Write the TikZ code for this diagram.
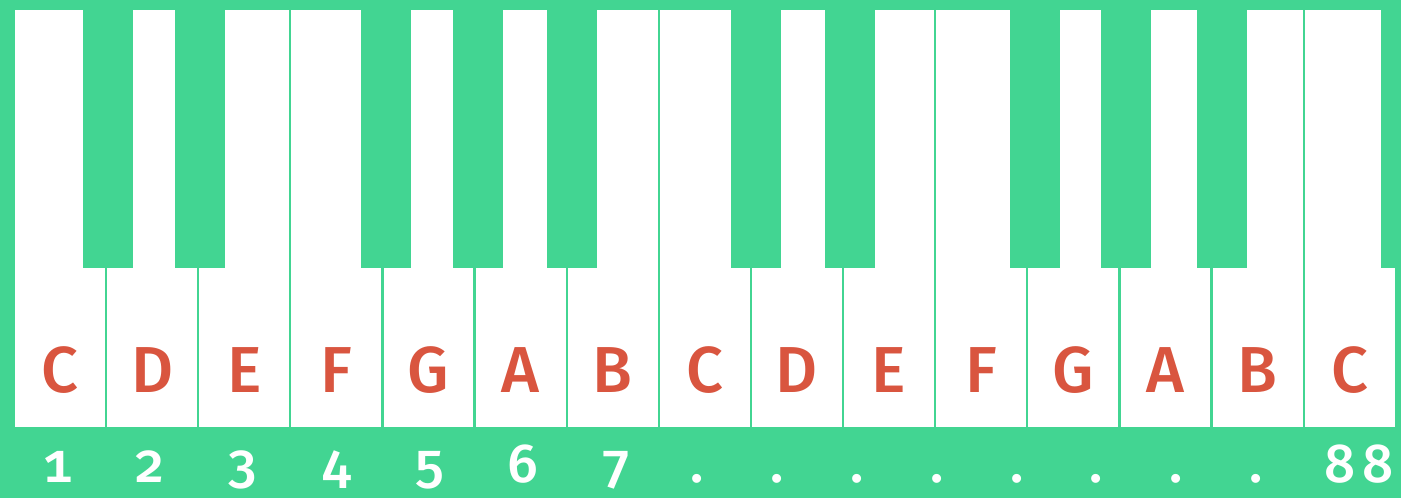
\documentclass[tikz,border=0pt]{standalone}
\usepackage{fontspec}
\setmainfont{Fira Sans}[UprightFont=* Medium, Numbers={OldStyle,Monospaced}]
\definecolor{keygreen}{HTML}{42D592}
\definecolor{notered}{HTML}{D9553F}
\tikzset{
  notelabel/.style={text=notered, font=\fontsize{65}{65}\selectfont, anchor=base, inner sep=0pt},
  keynum/.style={text=white, font=\fontsize{55}{55}\selectfont, anchor=base, inner sep=0pt}
}
\begin{document}
\begin{tikzpicture}[x=1pt, y=-1pt]
    \fill[keygreen] (0,0) rectangle (1401,498);
    \useasboundingbox (0,0) rectangle (1401,498);
    % white keys with their note names
    \foreach \i/\n in {0/C,1/D,2/E,3/F,4/G,5/A,6/B,7/C,8/D,9/E,10/F,11/G,12/A,13/B,14/C} {
      \fill[white] ({15+92.13*\i},10) rectangle ({104.9+92.13*\i},427);
      \node (note\i) [notelabel] at ({60+92.13*\i},392) {\n};
    }
    % black keys
    \foreach \x in {83,175,361,453,547,731,825,1010,1101,1197} {
      \fill[keygreen] (\x,0) rectangle (\x+50,268);
    }
    \fill[keygreen] (1381,0) rectangle (1401,268);
    % key numbers
    \foreach \k/\x in {1/58,2/150,3/243,4/337,5/430,6/523,7/617} {
      \node (num\k) [keynum] at (\x,482) {\k};
    }
    \foreach \d in {0,...,7} {
      \node (dot\d) [keynum] at ({697+79.9*\d},482) {.};
    }
    \node (num88) [keynum] at (1359,482) {8\kern7pt8};
  \end{tikzpicture}
\end{document}
